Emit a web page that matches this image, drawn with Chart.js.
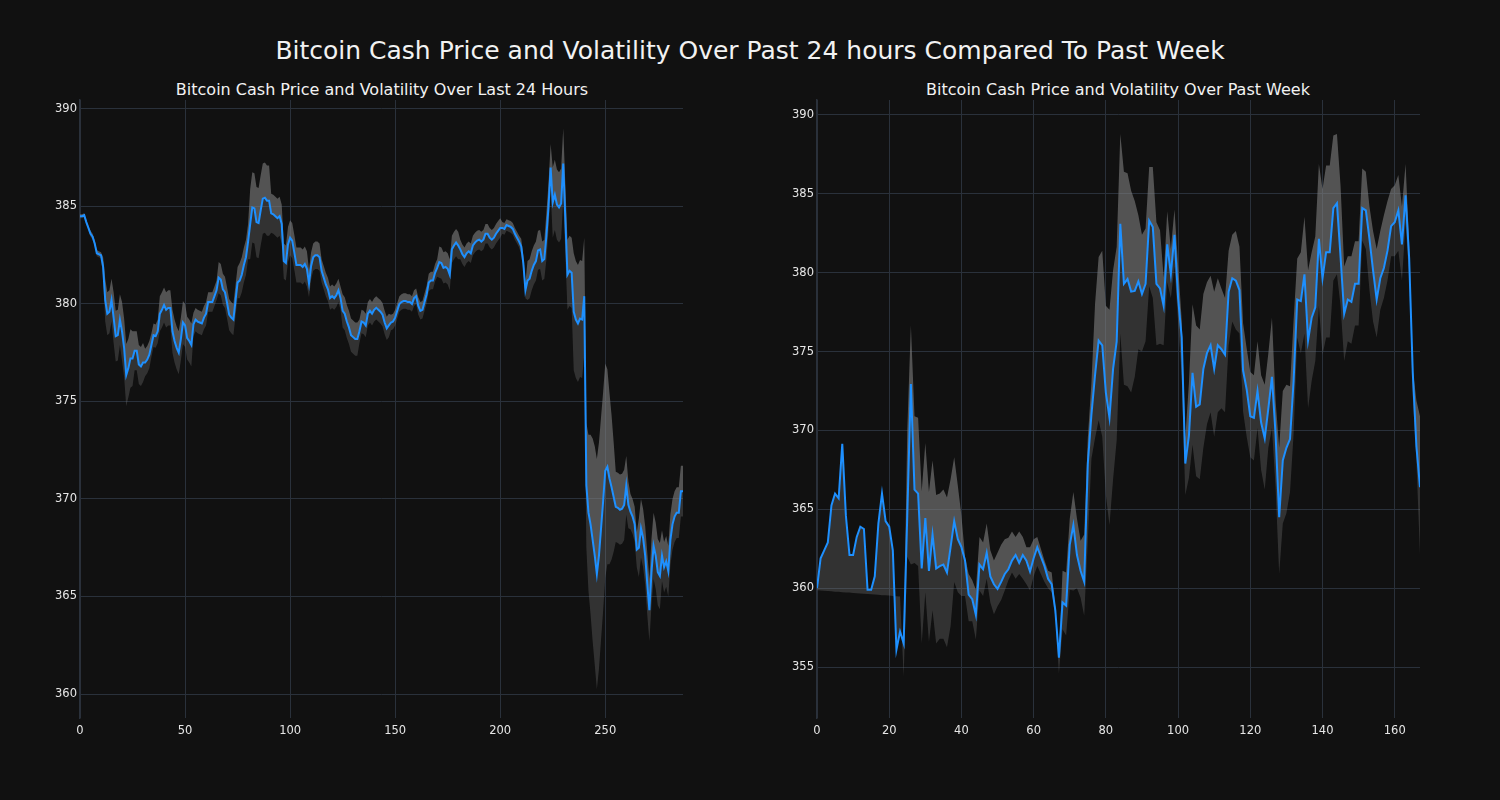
<!DOCTYPE html>
<html>
<head>
<meta charset="utf-8">
<script src="https://cdn.jsdelivr.net/npm/chart.js@4.4.1/dist/chart.umd.min.js"></script>
<style>
  html, body { margin: 0; padding: 0; background: #111111; }
  body { width: 1500px; height: 800px; position: relative; overflow: hidden; font-family: "DejaVu Sans", sans-serif; }
  .title { position: absolute; color: #f2f2f2; white-space: nowrap; transform: translate(-50%, -50%); }
  #main { left: 750px; top: 50px; font-size: 25px; }
  .sub { top: 89px; font-size: 16px; }
  canvas { position: absolute; }
</style>
</head>
<body>
<div id="main" class="title">Bitcoin Cash Price and Volatility Over Past 24 hours Compared To Past Week</div>
<div class="title sub" style="left:382px">Bitcoin Cash Price and Volatility Over Last 24 Hours</div>
<div class="title sub" style="left:1118px">Bitcoin Cash Price and Volatility Over Past Week</div>
<canvas id="dayChart" style="left:0px;top:80px"></canvas>
<canvas id="weekChart" style="left:750px;top:80px"></canvas>
<script>
// last 24 hours, 5 minute steps (288 points)
const price24 = [
  384.5, 384.5, 384.55, 384.2, 383.9, 383.6, 383.45, 383.1, 382.6, 382.55,
  382.5, 381.9, 380.2, 379.5, 379.6, 380.2, 379.3, 378.35, 378.4, 379.2,
  378.6, 377.75, 376.35, 376.7, 377.2, 377.2, 377.6, 377.6, 376.9, 376.8,
  377.0, 377.0, 377.15, 377.4, 377.9, 378.4, 378.35, 378.6, 379.5, 379.7,
  379.95, 379.7, 379.8, 379.8, 378.6, 378.1, 377.75, 377.5, 378.2, 379.05,
  378.9, 378.25, 378.1, 377.9, 378.95, 379.2, 379.1, 379.05, 379.0, 379.3,
  379.5, 380.1, 380.1, 380.1, 380.4, 380.7, 381.35, 381.25, 380.75, 380.6,
  380.05, 379.45, 379.3, 379.2, 380.15, 381.1, 381.2, 381.5, 382.0, 382.4,
  383.2, 384.1, 384.95, 384.9, 384.2, 384.15, 384.8, 385.4, 385.45, 385.3,
  385.3, 384.65, 384.6, 384.5, 384.4, 384.5, 384.1, 382.2, 382.1, 383.05,
  383.4, 383.25, 382.65, 382.0, 382.0, 382.0, 381.9, 382.05, 381.8, 381.05,
  381.95, 382.4, 382.5, 382.5, 382.4, 381.7, 381.35, 381.0, 380.75, 380.3,
  380.4, 380.3, 380.45, 380.7, 380.3, 379.65, 379.5, 379.1, 378.8, 378.4,
  378.3, 378.2, 378.2, 378.6, 379.1, 379.05, 378.9, 379.5, 379.65, 379.5,
  379.7, 379.8, 379.7, 379.6, 379.45, 379.05, 378.75, 378.9, 379.05, 379.1,
  379.3, 379.65, 380.0, 380.1, 380.15, 380.15, 380.1, 380.1, 380.0, 380.3,
  380.4, 379.9, 379.65, 379.7, 380.1, 380.5, 381.1, 381.2, 381.2, 381.6,
  381.85, 382.15, 382.1, 381.85, 381.9, 381.8, 381.5, 382.8, 383.0, 383.15,
  383.0, 382.8, 382.55, 382.4, 382.6, 382.7, 382.6, 383.0, 383.15, 383.25,
  383.3, 383.2, 383.3, 383.6, 383.6, 383.4, 383.3, 383.4, 383.6, 383.75,
  383.9, 383.9, 383.85, 384.05, 384.0, 383.95, 383.85, 383.6, 383.4, 383.2,
  382.95, 382.1, 380.7, 381.2, 381.3, 381.7, 382.0, 382.2, 382.75, 382.8,
  382.2, 382.3, 383.5, 385.0, 387.0, 385.2, 385.6, 385.1, 384.95, 385.15,
  387.2, 384.35, 381.5, 381.7, 381.6, 379.6, 379.2, 379.0, 379.25, 379.2,
  380.4, 370.7, 369.3, 368.7, 367.9, 367.1, 366.15, 367.1, 368.5, 369.9,
  371.45, 371.65, 371.05, 370.6, 370.1, 369.6, 369.55, 369.45, 369.5, 369.7,
  370.7, 369.7, 369.35, 369.1, 368.7, 367.4, 367.5, 368.5, 368.0, 367.1,
  365.65, 364.3, 366.25, 367.6, 367.1, 366.25, 366.05, 367.1, 366.5, 366.8,
  366.3, 367.9, 368.7, 369.1, 369.3, 369.3, 370.4, 370.4
];
// half width of the volatility band, same steps
const vol24 = [
  0.1, 0.1, 0.1, 0.1, 0.1, 0.15, 0.15, 0.15, 0.15, 0.15,
  0.15, 0.5, 1.1, 1.1, 1.1, 1.1, 1.3, 1.3, 1.3, 1.3,
  1.5, 1.5, 1.6, 1.5, 1.5, 1.4, 1.0, 1.0, 1.0, 1.0,
  1.0, 0.7, 0.7, 0.7, 0.6, 0.6, 0.6, 0.6, 0.9, 0.9,
  0.9, 0.9, 0.9, 0.9, 1.1, 1.1, 1.1, 1.1, 1.1, 1.1,
  1.1, 1.1, 1.1, 1.1, 0.6, 0.6, 0.6, 0.6, 0.6, 0.6,
  0.6, 0.5, 0.5, 0.5, 0.5, 0.5, 0.8, 0.8, 0.8, 0.8,
  0.8, 0.8, 0.8, 0.8, 0.8, 0.8, 0.9, 0.9, 0.9, 0.9,
  0.9, 1.8, 1.8, 1.8, 1.8, 1.8, 1.8, 1.8, 1.8, 1.8,
  1.8, 1.0, 1.0, 1.0, 1.0, 1.0, 1.0, 0.9, 0.9, 0.9,
  0.9, 0.9, 0.9, 0.9, 0.9, 0.9, 0.9, 0.9, 0.9, 0.7,
  0.7, 0.7, 0.7, 0.7, 0.7, 0.6, 0.6, 0.6, 0.6, 0.6,
  0.6, 0.6, 0.6, 0.6, 0.6, 0.85, 0.85, 0.85, 0.85, 0.85,
  0.85, 0.85, 0.85, 0.6, 0.6, 0.6, 0.6, 0.6, 0.6, 0.6,
  0.6, 0.6, 0.6, 0.6, 0.6, 0.6, 0.6, 0.6, 0.4, 0.4,
  0.4, 0.4, 0.4, 0.4, 0.4, 0.4, 0.4, 0.4, 0.4, 0.4,
  0.4, 0.45, 0.45, 0.45, 0.45, 0.45, 0.45, 0.45, 0.45, 0.45,
  0.45, 0.8, 0.8, 0.8, 0.8, 0.8, 0.8, 0.7, 0.7, 0.7,
  0.7, 0.5, 0.5, 0.5, 0.5, 0.5, 0.5, 0.5, 0.5, 0.5,
  0.5, 0.5, 0.5, 0.5, 0.5, 0.5, 0.5, 0.5, 0.5, 0.5,
  0.5, 0.3, 0.3, 0.3, 0.3, 0.3, 0.3, 0.3, 0.3, 0.3,
  0.4, 0.4, 0.4, 1.0, 1.0, 1.0, 1.0, 1.0, 1.0, 1.0,
  1.0, 1.0, 1.2, 1.2, 1.2, 1.8, 1.8, 1.8, 1.8, 1.8,
  1.8, 1.8, 1.8, 1.8, 1.8, 3.0, 3.0, 3.0, 3.0, 3.0,
  3.0, 3.2, 4.0, 4.6, 5.2, 5.6, 5.9, 5.8, 5.7, 5.6,
  5.5, 5.0, 4.4, 3.7, 2.8, 1.8, 1.8, 1.8, 1.8, 1.8,
  1.5, 1.2, 0.9, 0.9, 0.9, 0.9, 1.5, 1.5, 1.5, 1.5,
  1.6, 1.6, 1.7, 1.7, 1.7, 1.7, 1.7, 1.3, 1.3, 1.3,
  1.3, 1.3, 1.3, 1.3, 1.3, 1.3, 1.3, 1.3
];

// past week, hourly (168 points)
const priceWeek = [
  360.0, 361.9, 362.4, 362.9, 365.25, 366.0, 365.7, 369.15, 364.6, 362.1,
  362.1, 363.25, 363.9, 363.75, 359.9, 359.9, 360.75, 364.1, 366.0, 364.25,
  363.9, 362.4, 356.1, 357.25, 356.5, 364.6, 372.95, 366.25, 366.0, 361.25,
  364.45, 361.1, 363.4, 361.25, 361.4, 361.5, 361.0, 362.6, 364.25, 363.1,
  362.6, 361.75, 359.6, 359.3, 358.3, 361.5, 361.2, 362.25, 360.75, 360.25,
  359.95, 360.4, 360.9, 361.2, 361.75, 362.1, 361.6, 362.1, 361.75, 361.05,
  361.9, 362.6, 362.0, 361.4, 360.6, 360.25, 358.6, 355.6, 359.1, 358.9,
  362.75, 364.0, 362.1, 361.1, 360.4, 367.9, 371.0, 373.5, 375.7, 375.4,
  372.4, 370.8, 373.9, 375.65, 383.1, 379.3, 379.6, 378.8, 378.85, 379.45,
  378.65, 379.3, 383.3, 382.9, 379.3, 379.0, 377.9, 381.8, 379.9, 382.4,
  378.4, 375.9, 367.9, 369.65, 373.65, 371.5, 371.65, 373.9, 374.9, 375.4,
  373.9, 375.4, 375.15, 374.8, 378.8, 379.65, 379.5, 378.9, 373.8, 372.6,
  370.9, 370.8, 372.5, 370.5, 369.5, 371.4, 373.4, 369.75, 364.5, 368.1,
  368.9, 369.45, 373.15, 378.3, 378.2, 379.9, 375.7, 377.15, 377.8, 382.15,
  379.65, 381.3, 381.3, 384.1, 384.4, 381.0, 377.4, 378.3, 378.15, 379.3,
  379.3, 384.1, 383.95, 382.15, 380.15, 378.3, 379.65, 380.3, 381.4, 382.95,
  383.2, 383.95, 381.8, 384.9, 380.9, 373.65, 369.0, 366.4
];
// upper band (null = no band above the price yet)
const upperWeek = [
  null, null, null, null, null, null, null, null, null, null,
  null, null, null, null, null, null, null, null, null, null,
  null, null, null, null, 356.5, 370.0, 376.65, 370.9, 370.8, 366.15,
  369.2, 366.1, 368.1, 365.9, 366.0, 366.25, 365.75, 366.9, 368.3, 366.5,
  364.6, 362.0, 360.9, 360.5, 359.9, 363.25, 362.9, 364.1, 362.4, 361.75,
  362.25, 362.75, 363.1, 363.2, 363.6, 363.25, 363.6, 363.25, 362.6, 362.6,
  363.1, 363.25, 362.5, 361.75, 361.1, 361.0, 358.8, 355.6, 361.1, 361.0,
  364.4, 366.1, 364.4, 363.0, 363.4, 369.5, 373.0, 378.0, 381.0, 381.4,
  377.9, 377.65, 380.15, 381.65, 388.8, 386.4, 386.3, 385.2, 384.55, 383.65,
  382.4, 382.8, 386.7, 386.7, 383.2, 382.7, 379.7, 383.9, 381.5, 384.0,
  380.5, 377.0, 369.5, 373.0, 378.0, 376.65, 376.4, 378.65, 379.4, 379.8,
  378.8, 379.65, 379.0, 378.4, 381.4, 382.4, 382.65, 381.65, 376.8, 375.2,
  373.7, 373.5, 375.65, 373.5, 372.9, 374.9, 377.15, 371.9, 368.9, 372.5,
  372.9, 372.8, 377.0, 380.9, 381.3, 383.55, 380.15, 381.3, 382.3, 386.9,
  385.3, 386.8, 386.8, 388.7, 388.8, 385.5, 380.4, 381.05, 381.05, 382.0,
  382.0, 386.6, 386.4, 384.2, 382.65, 381.5, 382.65, 383.65, 384.55, 385.3,
  385.55, 386.2, 384.2, 386.9, 381.9, 373.9, 371.9, 370.9
];
const lowerWeek = [
  359.87, 359.85, 359.83, 359.82, 359.8, 359.78, 359.77, 359.75, 359.73, 359.72,
  359.7, 359.68, 359.67, 359.65, 359.63, 359.62, 359.6, 359.58, 359.56, 359.55,
  359.53, 359.51, 359.49, 359.47, 354.4, 362.0, 361.5, 361.6, 361.4, 356.5,
  359.75, 356.6, 358.6, 356.5, 356.8, 356.8, 356.25, 357.6, 360.4, 359.75,
  359.5, 359.5, 357.9, 357.9, 356.75, 359.85, 359.5, 360.6, 359.1, 358.35,
  358.85, 359.25, 359.85, 360.5, 361.0, 360.6, 360.9, 360.6, 360.25, 359.85,
  360.75, 361.4, 360.9, 360.4, 360.0, 359.75, 358.2, 354.6, 357.4, 357.0,
  359.9, 359.85, 360.0, 359.4, 358.25, 363.0, 368.2, 369.5, 370.65, 369.6,
  365.9, 364.0, 366.9, 369.4, 376.15, 372.9, 372.8, 372.4, 373.4, 375.15,
  375.0, 375.65, 379.15, 378.4, 375.4, 375.5, 375.4, 379.4, 378.4, 380.4,
  376.9, 373.4, 365.9, 367.0, 369.1, 367.1, 366.9, 368.9, 370.4, 371.15,
  369.6, 371.15, 371.4, 371.15, 375.4, 376.9, 376.4, 376.15, 371.2, 369.6,
  368.3, 368.1, 370.15, 367.5, 366.25, 368.9, 370.15, 366.4, 360.9, 364.1,
  364.75, 366.1, 369.8, 375.9, 374.9, 376.15, 371.4, 373.15, 374.4, 377.9,
  374.8, 375.9, 375.9, 379.5, 379.9, 377.9, 374.4, 375.65, 375.5, 376.65,
  376.65, 382.05, 381.5, 378.9, 376.9, 375.9, 377.65, 378.4, 379.5, 381.05,
  381.05, 381.4, 379.5, 383.15, 379.65, 372.15, 368.1, 362.1
];

const lineColor = '#1e90ff';
const upperFill = 'rgba(128,128,128,0.6)';
const lowerFill = 'rgba(128,128,128,0.3)';
const gridColor = '#2a313b';
const tickColor = '#e6e6e6';

function pts(arr) {
  return arr.map((v, i) => ({ x: i, y: v }));
}

function makeChart(id, price, upper, lower, xMax, xStep, yMin, yMax, pad) {
  const canvas = document.getElementById(id);
  canvas.width = 700;
  canvas.height = 670;
  canvas.style.width = '700px';
  canvas.style.height = '670px';
  return new Chart(canvas.getContext('2d'), {
    type: 'line',
    data: {
      datasets: [
        {
          label: 'Price',
          data: pts(price),
          borderColor: lineColor,
          borderWidth: 2,
          pointRadius: 0,
          fill: false,
          tension: 0
        },
        {
          label: 'Upper',
          data: pts(upper),
          borderWidth: 0,
          borderColor: 'rgba(0,0,0,0)',
          backgroundColor: upperFill,
          pointRadius: 0,
          fill: '-1',
          tension: 0
        },
        {
          label: 'Lower',
          data: pts(lower),
          borderWidth: 0,
          borderColor: 'rgba(0,0,0,0)',
          backgroundColor: lowerFill,
          pointRadius: 0,
          fill: 0,
          tension: 0
        }
      ]
    },
    options: {
      responsive: false,
      animation: false,
      devicePixelRatio: 1,
      layout: { padding: { left: pad.left, right: pad.right, top: 20, bottom: 0 } },
      plugins: {
        legend: { display: false },
        tooltip: { enabled: false },
        title: { display: false }
      },
      scales: {
        x: {
          type: 'linear',
          min: 0,
          max: xMax,
          grid: { color: gridColor, lineWidth: 1, drawTicks: false },
          border: { display: false },
          ticks: {
            stepSize: xStep,
            includeBounds: false,
            color: tickColor,
            padding: 6,
            maxRotation: 0,
            font: { family: 'DejaVu Sans', size: 11.5 }
          },
          afterFit(scale) { scale.height = 32; }
        },
        y: {
          type: 'linear',
          min: yMin,
          max: yMax,
          grid: { color: gridColor, lineWidth: 1, drawTicks: false },
          border: { display: true, color: gridColor, width: 1.5 },
          ticks: {
            stepSize: 5,
            includeBounds: false,
            color: tickColor,
            padding: 3,
            font: { family: 'DejaVu Sans', size: 11.5 }
          },
          afterFit(scale) { scale.width = 60; }
        }
      }
    }
  });
}

const upperDay = price24.map((v, i) => v + vol24[i]);
const lowerDay = price24.map((v, i) => v - vol24[i]);
const upperWeekFull = upperWeek.map((v, i) => (v === null ? priceWeek[i] : v));

makeChart('dayChart', price24, upperDay, lowerDay, 287, 50, 358.77, 390.46, { left: 20, right: 17 });
makeChart('weekChart', priceWeek, upperWeekFull, lowerWeek, 167, 20, 351.77, 390.95, { left: 7, right: 30 });
</script>
</body>
</html>
